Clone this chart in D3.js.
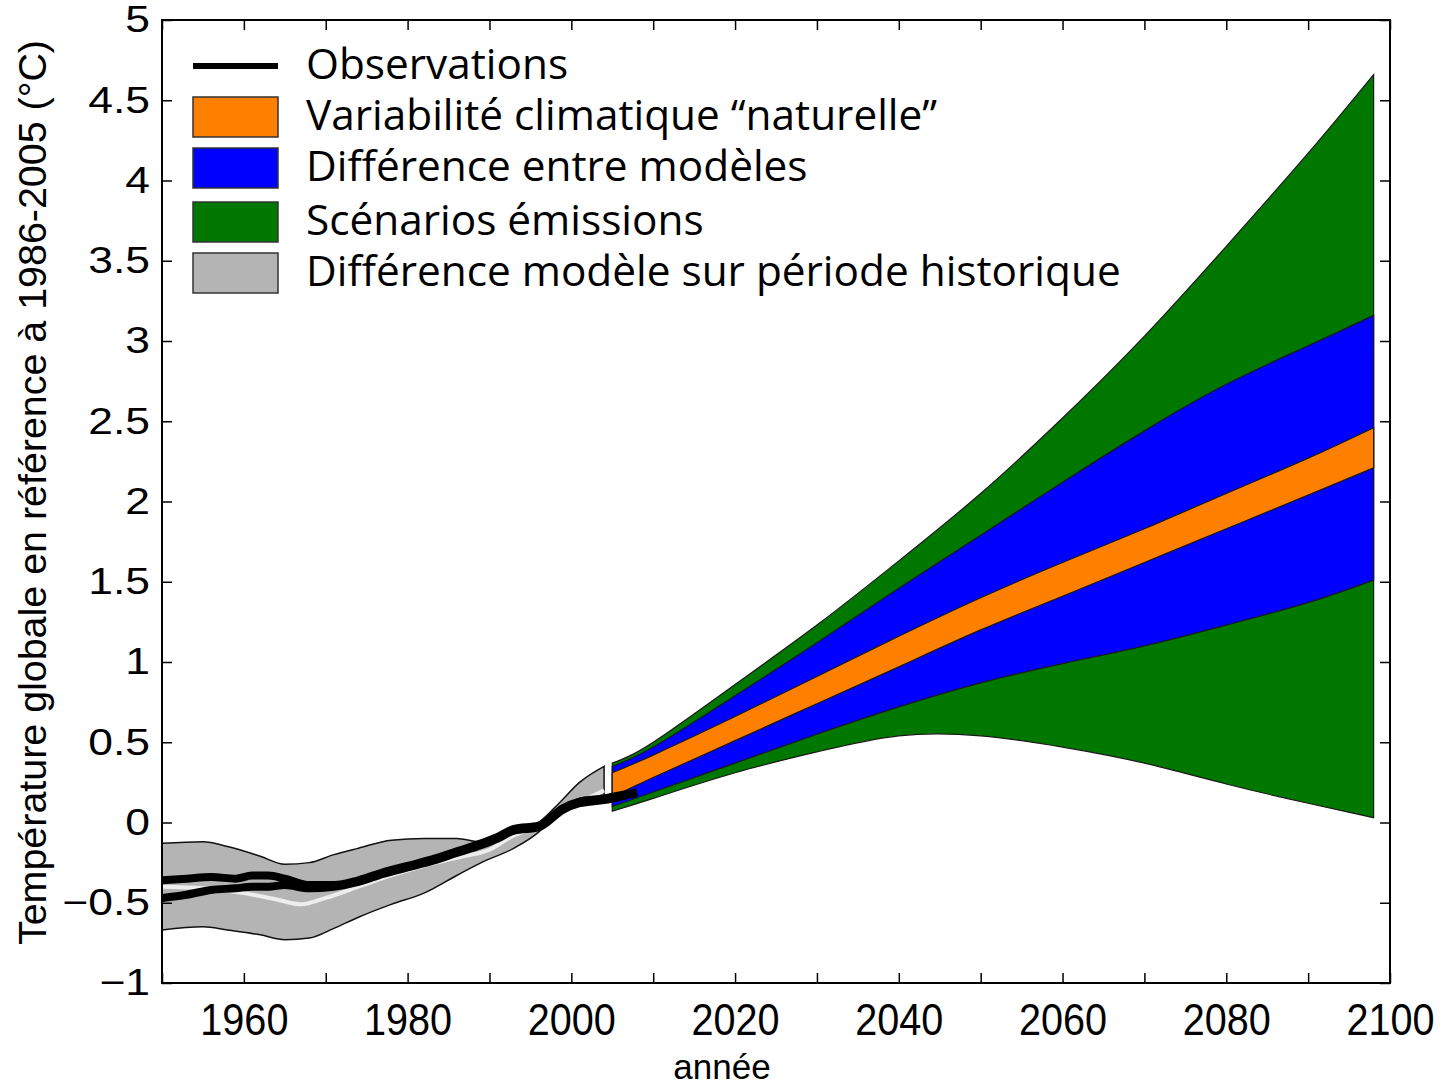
<!DOCTYPE html>
<meta charset="utf-8">
<script src="https://d3js.org/d3.v7.min.js"></script>
<style>
body { margin: 0; background: #fff; }
svg text { fill: #000; }
</style>
<div id="chart"></div>
<script>
// ---- data ----
// projections (2005 -> 2098)
const projYears    = [2005, 2010, 2020, 2030, 2040, 2050, 2060, 2070, 2080, 2090, 2098];
const greenTop     = [0.37, 0.50, 0.86, 1.23, 1.63, 2.05, 2.52, 3.03, 3.59, 4.17, 4.66];
const blueTop      = [0.35, 0.47, 0.79, 1.12, 1.46, 1.79, 2.12, 2.44, 2.73, 2.97, 3.16];
const orangeTop    = [0.31, 0.42, 0.66, 0.91, 1.16, 1.40, 1.62, 1.83, 2.05, 2.27, 2.46];
const orangeBottom = [0.16, 0.28, 0.51, 0.74, 0.97, 1.20, 1.41, 1.62, 1.83, 2.04, 2.21];
const blueBottom   = [0.10, 0.19, 0.37, 0.55, 0.72, 0.87, 0.99, 1.10, 1.23, 1.37, 1.51];
const greenBottom  = [0.07, 0.15, 0.31, 0.44, 0.54, 0.54, 0.47, 0.37, 0.24, 0.12, 0.03];

// historical model spread (1950 -> 2004)
const histYears  = [1950, 1955, 1958, 1962, 1965, 1968, 1971, 1974, 1978, 1982, 1986, 1989, 1993, 1996, 1998.5, 2001, 2004];
const histTop    = [-0.13, -0.12, -0.15, -0.21, -0.26, -0.25, -0.20, -0.16, -0.11, -0.10, -0.10, -0.12, -0.06, 0.00, 0.12, 0.25, 0.35];
const histBottom = [-0.67, -0.65, -0.67, -0.70, -0.73, -0.72, -0.66, -0.59, -0.51, -0.44, -0.33, -0.25, -0.16, -0.06, 0.07, 0.15, 0.17];

// model mean over historical period
const meanYears = [1950, 1955, 1960, 1964, 1967, 1970, 1974, 1978, 1982, 1986, 1990, 1993, 1996, 1999, 2002, 2004];
const meanVals  = [-0.40, -0.41, -0.44, -0.48, -0.51, -0.47, -0.40, -0.33, -0.27, -0.22, -0.17, -0.08, -0.02, 0.08, 0.15, 0.20];

// observations (two datasets)
const obsYears = [1950, 1953, 1956, 1959, 1961, 1963, 1965, 1968, 1971, 1974, 1977, 1980, 1983, 1986, 1989, 1991, 1993, 1996, 1999, 2001, 2004, 2006, 2008];
const obsA     = [-0.36, -0.35, -0.34, -0.35, -0.33, -0.33, -0.35, -0.39, -0.39, -0.36, -0.31, -0.27, -0.23, -0.18, -0.13, -0.09, -0.04, -0.02, 0.09, 0.13, 0.15, 0.17, 0.18];
const obsB     = [-0.47, -0.45, -0.42, -0.41, -0.40, -0.40, -0.39, -0.41, -0.40, -0.37, -0.32, -0.28, -0.24, -0.19, -0.14, -0.10, -0.05, -0.03, 0.08, 0.12, 0.14, 0.16, 0.19];

const xTicks = d3.range(1950, 2101, 10);
const xLabels = [1960, 1980, 2000, 2020, 2040, 2060, 2080, 2100];
const yTicks = d3.range(-1, 5.01, 0.5);
const yLabels = ["−1", "−0.5", "0", "0.5", "1", "1.5", "2", "2.5", "3", "3.5", "4", "4.5", "5"];

const legendNames = ["Observations", "Variabilité climatique “naturelle”", "Différence entre modèles",
                     "Scénarios émissions", "Différence modèle sur période historique"];
const legendColors = [null, "#ff8000", "#0000ff", "#007800", "#b4b4b4"];

(function() {
  // ---- layout ----
  const W = 1447, H = 1089;
  const mLeft = 162, mRight = 1390, mTop = 20, mBottom = 983;

  const svg = d3.select("#chart").append("svg")
    .attr("width", W).attr("height", H);

  const x = d3.scaleLinear().domain([1950, 2100]).range([mLeft, mRight]);
  const y = d3.scaleLinear().domain([-1, 5]).range([mBottom, mTop]);

  svg.append("clipPath").attr("id", "clip")
    .append("rect").attr("x", mLeft).attr("y", mTop).attr("width", mRight - mLeft).attr("height", mBottom - mTop);
  const plot = svg.append("g").attr("clip-path", "url(#clip)");

  function band(years, lo, hi) {
    return years.map((yr, i) => ({ yr: yr, lo: lo[i], hi: hi[i] }));
  }
  const smoothArea = d3.area()
    .x(d => x(d.yr)).y0(d => y(d.lo)).y1(d => y(d.hi))
    .curve(d3.curveNatural);
  const roughArea = d3.area()
    .x(d => x(d.yr)).y0(d => y(d.lo)).y1(d => y(d.hi))
    .curve(d3.curveMonotoneX);

  // projection bands
  [[greenBottom, greenTop, "#007800"], [blueBottom, blueTop, "#0000ff"], [orangeBottom, orangeTop, "#ff8000"]]
    .forEach(b => {
      plot.append("path")
        .datum(band(projYears, b[0], b[1]))
        .attr("d", smoothArea)
        .attr("fill", b[2])
        .attr("stroke", "#1a1a1a")
        .attr("stroke-width", 1.2);
    });

  // historical grey band
  plot.append("path")
    .datum(band(histYears, histBottom, histTop))
    .attr("d", roughArea)
    .attr("fill", "#b4b4b4")
    .attr("stroke", "#111")
    .attr("stroke-width", 1.5);

  const line = d3.line().x(d => x(d[0])).y(d => y(d[1])).curve(d3.curveMonotoneX);

  plot.append("path")
    .datum(meanYears.map((yr, i) => [yr, meanVals[i]]))
    .attr("d", line)
    .attr("fill", "none")
    .attr("stroke", "#eeeeee")
    .attr("stroke-width", 4);

  [obsA, obsB].forEach(s => {
    plot.append("path")
      .datum(obsYears.map((yr, i) => [yr, s[i]]))
      .attr("d", line)
      .attr("fill", "none")
      .attr("stroke", "#000")
      .attr("stroke-width", 8)
      .attr("stroke-linejoin", "round");
  });

  // ---- axes ----
  const tickFont = "'Liberation Sans', Arial, sans-serif";

  const gx = svg.append("g").attr("transform", `translate(0,${mBottom})`)
    .call(d3.axisBottom(x).tickValues(xTicks).tickSizeInner(-10).tickSizeOuter(0).tickPadding(20)
      .tickFormat(d => xLabels.includes(d) ? String(d) : ""));
  // tall, slightly narrow digits along the year axis
  gx.selectAll("text")
    .attr("font-size", 44).attr("font-family", tickFont)
    .attr("y", 0).attr("dy", null)
    .attr("transform", "translate(0,52) scale(0.9,1)");

  svg.append("g").attr("transform", `translate(0,${mTop})`)
    .call(d3.axisTop(x).tickValues(xTicks).tickSizeInner(-10).tickSizeOuter(0).tickFormat(""));

  const gy = svg.append("g").attr("transform", `translate(${mLeft},0)`)
    .call(d3.axisLeft(y).tickValues(yTicks).tickSizeInner(-10).tickSizeOuter(0).tickPadding(12)
      .tickFormat((d, i) => yLabels[i]));
  // wide digits along the temperature axis
  gy.selectAll("text")
    .attr("font-size", 37).attr("font-family", tickFont)
    .attr("x", 0)
    .attr("transform", "translate(-12,0) scale(1.2,1)");

  svg.append("g").attr("transform", `translate(${mRight},0)`)
    .call(d3.axisRight(y).tickValues(yTicks).tickSizeInner(-10).tickSizeOuter(0).tickFormat(""));

  svg.selectAll(".tick line").attr("stroke", "#000").attr("stroke-width", 1.5);
  svg.selectAll(".domain").remove();

  svg.append("rect")
    .attr("x", mLeft).attr("y", mTop).attr("width", mRight - mLeft).attr("height", mBottom - mTop)
    .attr("fill", "none").attr("stroke", "#000").attr("stroke-width", 2);

  // axis titles
  svg.append("text")
    .attr("transform", `translate(46,${(40 + 945) / 2}) rotate(-90)`)
    .attr("text-anchor", "middle")
    .attr("font-family", tickFont)
    .attr("font-size", 38)
    .attr("textLength", 905)
    .attr("lengthAdjust", "spacingAndGlyphs")
    .text("Température globale en référence à 1986-2005 (°C)");

  svg.append("text")
    .attr("x", 722).attr("y", 1079)
    .attr("text-anchor", "middle")
    .attr("font-family", tickFont)
    .attr("font-size", 35)
    .text("année");

  // ---- legend ----
  const legend = svg.append("g");
  const rowY = [66, 117, 168, 222, 273];
  legendNames.forEach((name, i) => {
    if (legendColors[i] === null) {
      legend.append("line")
        .attr("x1", 193).attr("x2", 278).attr("y1", rowY[i]).attr("y2", rowY[i])
        .attr("stroke", "#000").attr("stroke-width", 6);
    } else {
      legend.append("rect")
        .attr("x", 193).attr("y", rowY[i] - 20).attr("width", 85).attr("height", 40)
        .attr("fill", legendColors[i]).attr("stroke", "#333").attr("stroke-width", 1.5);
    }
    legend.append("text")
      .attr("class", "leg")
      .attr("x", 306).attr("y", rowY[i] + 13)
      .attr("font-family", "'Open Sans', 'Noto Sans', sans-serif")
      .attr("font-size", 36)
      .text(name);
  });
  // fit legend font so the longest entry spans the same width as in the figure
  const longest = legend.selectAll("text.leg").nodes()[4];
  const fs = 36 * 815 / longest.getComputedTextLength();
  legend.selectAll("text.leg").attr("font-size", fs);
})();
</script>
